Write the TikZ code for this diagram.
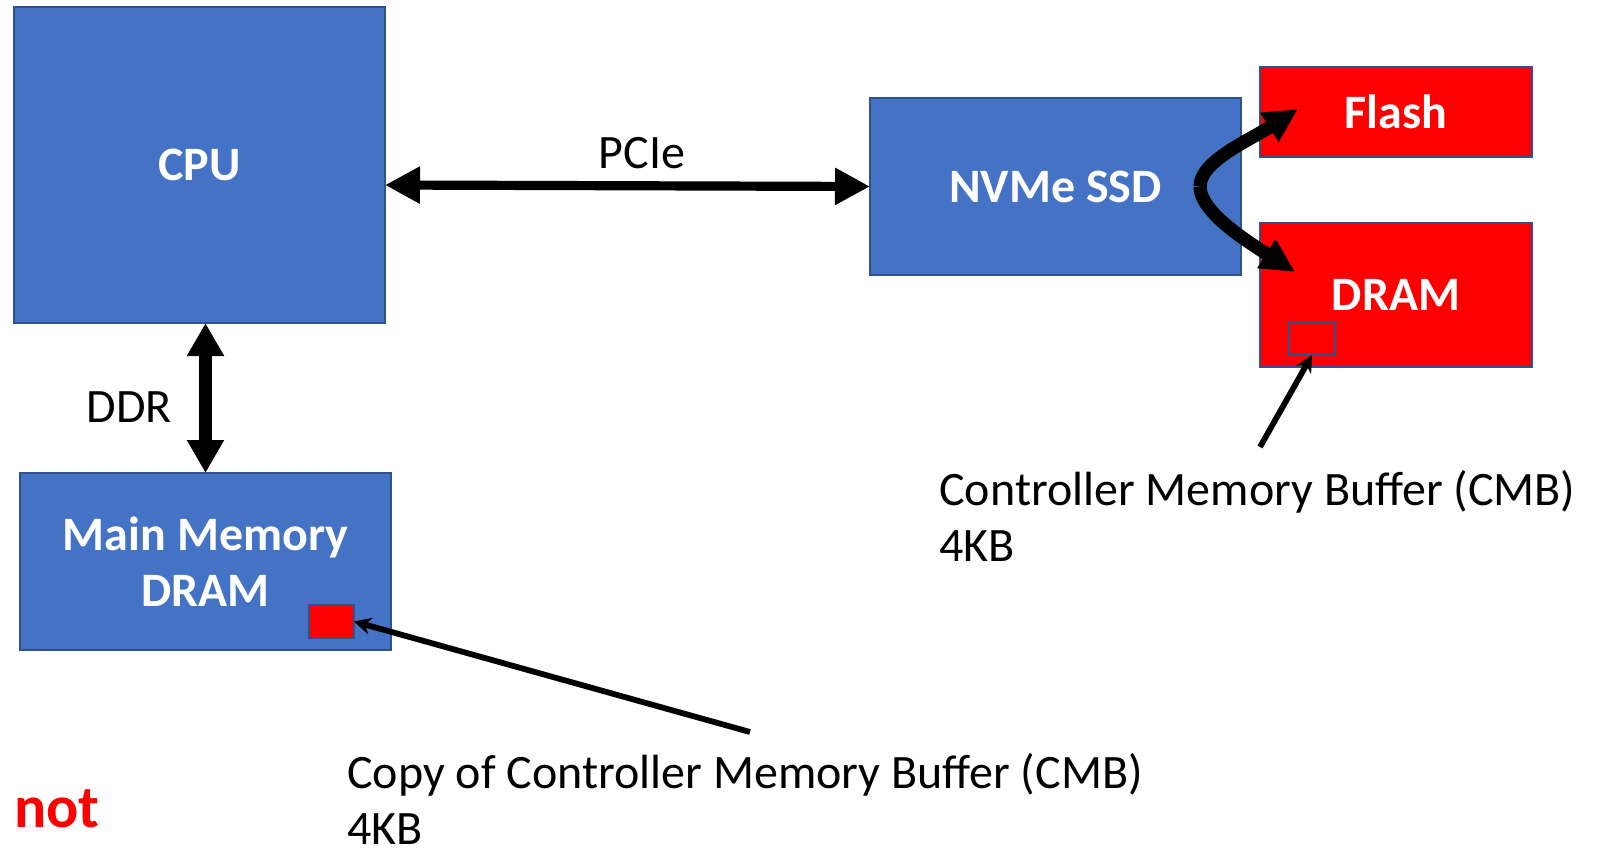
\documentclass[tikz,border=0pt]{standalone}
\usepackage{fontspec}
\setmainfont{Carlito}
\usetikzlibrary{arrows.meta,positioning,calc}

\definecolor{boxblue}{HTML}{4472C4}
\definecolor{boxedge}{HTML}{2F528F}
\definecolor{memred}{HTML}{FF0000}

\tikzset{
  unit/.style={draw=boxedge,line width=1.2pt,fill=boxblue,text=white,inner sep=0pt,outer sep=0pt,align=center,font=\bfseries\fontsize{24}{28}\selectfont},
  redunit/.style={unit,fill=memred},
  buf/.style={draw=boxedge,line width=1.2pt,fill=memred,inner sep=0pt,outer sep=0pt},
  lbl/.style={inner sep=0pt,font=\fontsize{24}{28}\selectfont},
  callout/.style={line width=2.9pt,-{Stealth[length=8.5pt,width=8.5pt]}}
}

\begin{document}
\begin{tikzpicture}[x=0.5pt,y=-0.5pt]
\useasboundingbox (0,0) rectangle (1601,851);

% Host side
\node[unit,minimum width=185.5pt,minimum height=158pt] (cpu) at (199.5,165) {CPU};
\node[unit,minimum width=185.5pt,minimum height=88.5pt] (mm) at (205.5,561.5) {Main Memory\\DRAM};
\node[buf,minimum width=22.5pt,minimum height=16.5pt] (copy) at (331.5,621.5) {};

% Device side
\node[unit,minimum width=185.5pt,minimum height=88.5pt] (nvme) at (1055.5,186.5) {NVMe SSD};
\node[redunit,minimum width=136pt,minimum height=45pt] (flash) at (1396,112) {Flash};
\node[redunit,minimum width=136pt,minimum height=72pt] (dram) at (1396,295) {DRAM};
\node[buf,minimum width=23pt,minimum height=16.5pt] (cmb) at (1312,338.5) {};

% Buses
\draw[line width=4.6pt,{Triangle[length=17.5pt,width=17.5pt]}-{Triangle[length=17.5pt,width=17.5pt]}]
  ([yshift=-10pt]cpu.east) -- node[lbl,pos=0.53,above=6pt] (pcie) {PCIe} (nvme.west);
\draw[line width=6.6pt,{Triangle[length=16.5pt,width=17.5pt]}-{Triangle[length=16.5pt,width=17.5pt]}]
  (cpu.south -| mm.north) -- node[lbl,pos=0.56,left=13.5pt] (ddr) {DDR} (mm.north);

% Inside the SSD
\coordinate (split) at ([xshift=-20.5pt]nvme.east);
\draw[line width=6.6pt,-{Triangle[length=17pt,width=16pt]}]
  (split) .. controls +(0,-25) and +(-50,32) .. ([xshift=19pt,yshift=1.5pt]flash.west);
\draw[line width=6.6pt,-{Triangle[length=17pt,width=16pt]}]
  (split) .. controls +(0,25) and +(-50,-32) .. ([xshift=17.5pt,yshift=11.5pt]dram.west);

% Callouts
\coordinate (cmbtail) at (1260,447);
\draw[callout] (cmbtail) -- (cmb.south);
\node[lbl,align=left,anchor=west] (cmbtext) at (939,516) {Controller Memory Buffer (CMB)\\4KB};

\coordinate (copytail) at (750,732);
\draw[callout] (copytail) -- (copy.east);
\node[lbl,align=left,anchor=west] (copytext) at (347,799) {Copy of Controller Memory Buffer (CMB)\\4KB};

\node[inner sep=0pt,anchor=west,text=memred,font=\bfseries\fontsize{30}{36}\selectfont] (nottext) at (14,809) {not};
\end{tikzpicture}
\end{document}
